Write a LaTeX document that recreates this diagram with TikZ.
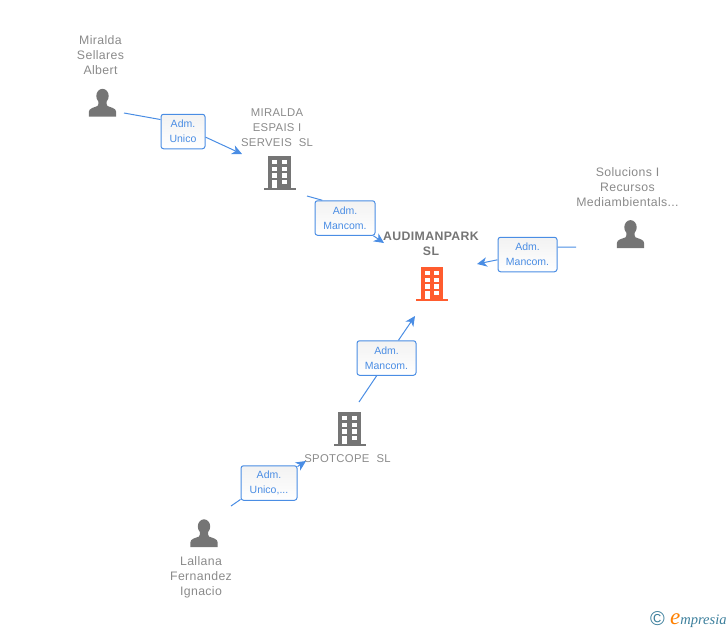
\documentclass[tikz,border=0pt]{standalone}
\usepackage{fontspec}
\setmainfont[LetterSpace=3]{Liberation Sans}
\newfontfamily\boxfont{Liberation Sans}
\newfontfamily\logofont{Liberation Serif}
\usetikzlibrary{arrows.meta}
\definecolor{iconGrey}{HTML}{757575}
\definecolor{textGrey}{HTML}{8A8A8A}
\definecolor{linkBlue}{HTML}{4A8DE4}
\definecolor{mainOrange}{HTML}{FF5C2E}
\definecolor{logoTeal}{HTML}{3C7F9C}
\tikzset{
    every node/.style={font=\fontsize{12.3}{15}\selectfont, text=textGrey, align=center, inner sep=0pt},
    capslabel/.style={font=\fontsize{11.3}{15}\selectfont},
    rolebox/.style={draw=linkBlue, line width=1pt, rounded corners=2.5pt, top color=black!5, bottom color=white,
        text=linkBlue, font=\boxfont\fontsize{10.5}{15}\selectfont, minimum height=34.5pt},
    link/.style={draw=linkBlue, line width=1pt},
    linkarrow/.style={link, -{Stealth[length=10pt, width=9.5pt, inset=3pt]}},
    pics/person/.style={code={
        \fill[iconGrey] (0,-7) ellipse (6.2 and 7.2);
        \fill[iconGrey] (-13.7,13.7) -- (-13.7,9) .. controls (-13.7,5) and (-8,4.5) .. (-5,3)
            .. controls (-4,2) and (-4,1) .. (-4,-3) -- (4,-3) .. controls (4,1) and (4,2) .. (5,3)
            .. controls (8,4.5) and (13.7,5) .. (13.7,9) -- (13.7,13.7) -- cycle;
    }},
    pics/building/.style={code={
        \fill[#1] (-11.3,-17.3) rectangle (11.3,15);
        \fill[#1] (-16,14.6) rectangle (16,17.4);
        \foreach \wy in {-13,-6.3,0.2}{
            \fill[white] (-7.5,\wy) rectangle (-2.3,\wy+4.3);
            \fill[white] (2,\wy) rectangle (7.3,\wy+4.3);
        }
        \fill[white] (-7.5,7) rectangle (-2.3,14.6);
        \fill[white] (2,7) rectangle (7.3,11.2);
    }}
}
\begin{document}
\begin{tikzpicture}[x=1pt, y=-1pt]
    \useasboundingbox (0,0) rectangle (728,630);

    \pic at (102.5,103) {person};
    \pic at (630.5,234.3) {person};
    \pic at (204,533.5) {person};
    \pic at (279.5,173) {building=iconGrey};
    \pic at (349.5,429) {building=iconGrey};
    \pic at (432,284) {building=mainOrange};

    \node (miralda) at (100.5,55) {Miralda\\Sellares\\Albert};
    \node[capslabel] (espais) at (277,127.7) {MIRALDA\\ESPAIS I\\SERVEIS\kern7pt SL};
    \node (solucions) at (627.5,187) {Solucions I\\Recursos\\Mediambientals...};
    \node[font=\bfseries\fontsize{12.3}{15}\selectfont, text=iconGrey] (audimanpark) at (431,244) {AUDIMANPARK\\SL};
    \node[capslabel] (spotcope) at (347.5,458.7) {SPOTCOPE\kern7pt SL};
    \node (lallana) at (201,577) {Lallana\\Fernandez\\Ignacio};

    \node[rolebox, minimum width=44pt] (unico) at (183,131.5) {Adm.\\Unico};
    \node[rolebox, minimum width=60pt] (mancomA) at (345,218) {Adm.\\Mancom.};
    \node[rolebox, minimum width=59pt] (mancomB) at (527.5,254.5) {Adm.\\Mancom.};
    \node[rolebox, minimum width=59pt] (mancomC) at (386.5,358) {Adm.\\Mancom.};
    \node[rolebox, minimum width=56pt] (unicoB) at (269,483) {Adm.\\Unico,...};

    \coordinate (fromMiralda) at (124,113);
    \coordinate (toEspais) at (242,154);
    \coordinate (fromEspais) at (307,196);
    \coordinate (toAudiA) at (384,243);
    \coordinate (fromSolucions) at (576,247);
    \coordinate (toAudiB) at (477,264);
    \coordinate (fromSpotcope) at (359,402);
    \coordinate (toAudiC) at (415,316);
    \coordinate (fromLallana) at (231,506);
    \coordinate (toSpotcope) at (306,461);

    \draw[link] (fromMiralda) -- (unico.152);
    \draw[linkarrow] (unico.-14) -- (toEspais);
    \draw[link] (fromEspais) -- (mancomA.142);
    \draw[linkarrow] (mancomA.-32) -- (toAudiA);
    \draw[link] (fromSolucions) -- (mancomB.14);
    \draw[linkarrow] (mancomB.190) -- (toAudiB);
    \draw[link] (fromSpotcope) -- (mancomC.241);
    \draw[linkarrow] (mancomC.56) -- (toAudiC);
    \draw[link] (fromLallana) -- (unicoB.210);
    \draw[linkarrow] (unicoB.30) -- (toSpotcope);

    \node[font=\boxfont\fontsize{20}{20}\selectfont, text=logoTeal] (copyright) at (657.5,618.5) {©};
    \node[anchor=base west, font=\logofont\itshape\fontsize{14.5}{14.5}\selectfont, text=logoTeal] (logo) at (670,624)
        {\textcolor{orange}{\fontsize{23}{23}\selectfont e}mpresia};
\end{tikzpicture}
\end{document}
